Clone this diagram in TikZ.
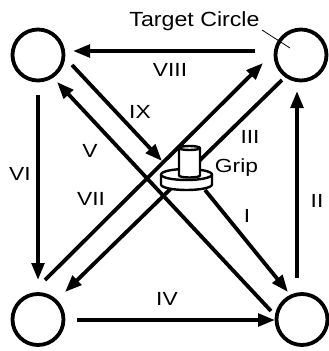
\documentclass[tikz,border=0pt]{standalone}
\usepackage{fontspec}
\setmainfont{Liberation Sans}
\usetikzlibrary{arrows.meta}
\newcommand{\wide}[2][1.2]{\scalebox{#1}[1]{#2}}
\begin{document}
\begin{tikzpicture}[x=1pt,y=-1pt,
  target/.style={circle,draw,line width=3.8pt,minimum size=51pt,inner sep=0pt},
  move/.style={line width=3.8pt,-{Triangle[length=17pt,width=12.5pt]}},
  lbl/.style={anchor=base,inner sep=0pt,font=\fontsize{19}{22}\selectfont},
  part/.style={fill=white,draw,line width=2.4pt,line join=round}]
\useasboundingbox (0,0) rectangle (329,351);

% target circles
\node[target] (tl) at (38,55) {};
\node[target] (tr) at (301,55) {};
\node[target] (bl) at (38,319.5) {};
\node[target] (br) at (302,319.5) {};

% arrow end points
\coordinate (viiiA) at (255,51);  \coordinate (viiiB) at (73,51);
\coordinate (viA) at (38,95);     \coordinate (viB) at (38,280);
\coordinate (ivA) at (77,320);    \coordinate (ivB) at (275,320);
\coordinate (iiA) at (297,278);   \coordinate (iiB) at (297,91);
\coordinate (ixA) at (72,65);     \coordinate (ixB) at (162,161);
\coordinate (iA) at (205,190);    \coordinate (iB) at (288,292);
\coordinate (vA) at (271,311);    \coordinate (vB) at (57,82);
\coordinate (iiiA) at (45,280);   \coordinate (iiiB) at (263,63);
\coordinate (viiA) at (282,80);   \coordinate (viiB) at (65,292);

\draw[move] (viiiA) -- (viiiB);
\draw[move] (viA) -- (viB);
\draw[move] (ivA) -- (ivB);
\draw[move] (iiA) -- (iiB);
\draw[move] (ixA) -- (ixB);
\draw[move] (iA) -- (iB);
\draw[move] (vA) -- (vB);
\draw[move] (iiiA) -- (iiiB);
\draw[move] (viiA) -- (viiB);

% grip: disc with a short cylinder on top
\coordinate (discL) at (161,174.5);
\draw[part] (discL) -- ++(0,10)
  arc[start angle=180,end angle=360,x radius=25.5pt,y radius=5.5pt] -- ++(0,-10) -- cycle;
\draw[part] (186.5,174.5) ellipse[x radius=25.5pt,y radius=5.5pt];
\draw[part] (179,148) -- (179,175.5)
  arc[start angle=180,end angle=360,x radius=10.5pt,y radius=2pt] -- (200,148) -- cycle;
\draw[part] (189.5,148) ellipse[x radius=10.5pt,y radius=2pt];

% labels
\node[lbl,font=\fontsize{20.5}{24}\selectfont] (tgt) at (194.5,26.7) {\wide[1.13]{Target Circle}};
\coordinate (tgtEnd) at (262,30);
\coordinate (tgtIn) at (290,48);
\draw[line width=0.8pt] (tgtEnd) -- (tgtIn);
\node[lbl] (grip) at (236.5,172) {\wide{Grip}};
\node[lbl] (l1) at (247,222) {\wide{I}};
\node[lbl] (l2) at (317,207) {\wide{II}};
\node[lbl] (l3) at (250,143) {\wide{III}};
\node[lbl] (l4) at (167,305) {\wide{IV}};
\node[lbl] (l5) at (90,157) {\wide{V}};
\node[lbl] (l6) at (20,180) {\wide{VI}};
\node[lbl] (l7) at (91,205) {\wide{VII}};
\node[lbl] (l8) at (170,76) {\wide{VIII}};
\node[lbl] (l9) at (140,118) {\wide{IX}};
\end{tikzpicture}
\end{document}
